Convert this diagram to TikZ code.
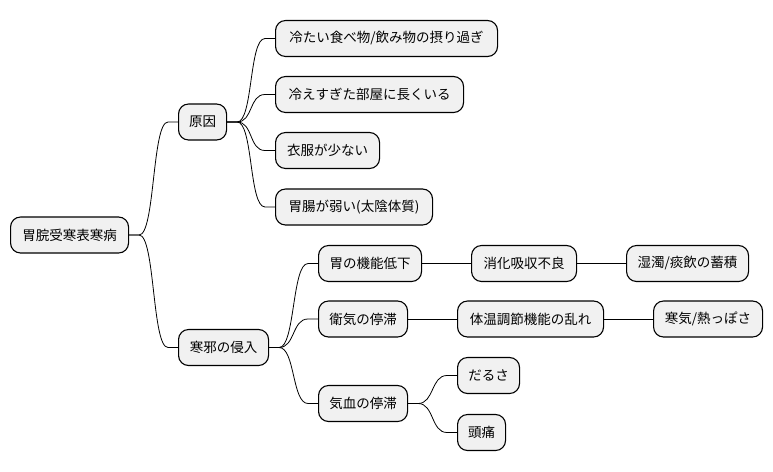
\documentclass[tikz,border=0pt]{standalone}
\usepackage{fontspec}
\setmainfont{Noto Sans CJK JP}
\usetikzlibrary{calc}
\definecolor{boxfill}{HTML}{F1F1F1}
\tikzset{
  mm/.style={draw=black, fill=boxfill, line width=1.1pt, rounded corners=10pt,
    minimum height=36pt, anchor=west, inner sep=0pt, align=center,
    font=\fontsize{13.5}{16}\selectfont},
  link/.style={line width=0.8pt, black}
}
\newcommand\curvelink[2]{\draw[link] (#1.east) -- ++(10,0) .. controls +(16,0) and +(-16,0) .. ($(#2.west)+(-10,0)$) -- (#2.west);}
\newcommand\straightlink[2]{\draw[link] (#1.east) -- (#2.west);}
\begin{document}
\begin{tikzpicture}[x=1pt,y=-1pt]
\useasboundingbox (0,0) rectangle (773,471);
\node[mm, minimum width=118] (root) at (10,235) {胃脘受寒表寒病};
\node[mm, minimum width=48] (cause) at (178,122) {原因};
\node[mm, minimum width=222] (c1) at (275,38.5) {冷たい食べ物/飲み物の摂り過ぎ};
\node[mm, minimum width=188] (c2) at (275,94.5) {冷えすぎた部屋に長くいる};
\node[mm, minimum width=104] (c3) at (275,150.5) {衣服が少ない};
\node[mm, minimum width=157] (c4) at (275,207) {胃腸が弱い(太陰体質)};
\node[mm, minimum width=90] (inv) at (178,347.5) {寒邪の侵入};
\node[mm, minimum width=103] (s1) at (318,263.5) {胃の機能低下};
\node[mm, minimum width=105] (s1a) at (471,263.5) {消化吸収不良};
\node[mm, minimum width=122] (s1b) at (626,263.5) {湿濁/痰飲の蓄積};
\node[mm, minimum width=89] (s2) at (318,319) {衛気の停滞};
\node[mm, minimum width=146] (s2a) at (457,319) {体温調節機能の乱れ};
\node[mm, minimum width=109] (s2b) at (653,319) {寒気/熱っぽさ};
\node[mm, minimum width=89] (s3) at (318,403.5) {気血の停滞};
\node[mm, minimum width=62] (s3a) at (457,375.5) {だるさ};
\node[mm, minimum width=48] (s3b) at (457,432.5) {頭痛};
\curvelink{root}{cause}
\curvelink{root}{inv}
\curvelink{cause}{c1}
\curvelink{cause}{c2}
\curvelink{cause}{c3}
\curvelink{cause}{c4}
\curvelink{inv}{s1}
\curvelink{inv}{s2}
\curvelink{inv}{s3}
\straightlink{s1}{s1a}
\straightlink{s1a}{s1b}
\straightlink{s2}{s2a}
\straightlink{s2a}{s2b}
\curvelink{s3}{s3a}
\curvelink{s3}{s3b}
\end{tikzpicture}
\end{document}
